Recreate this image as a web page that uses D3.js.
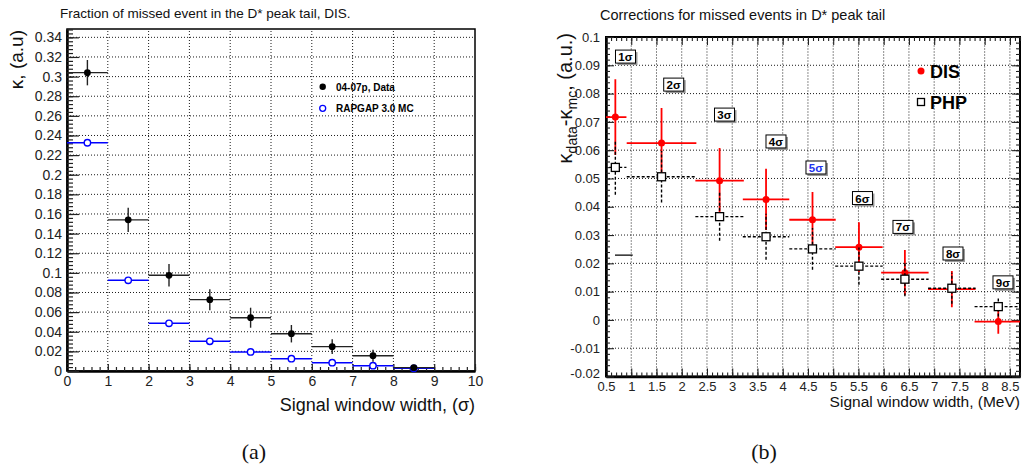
<!DOCTYPE html>
<html>
<head>
<meta charset="utf-8">
<script src="https://cdn.jsdelivr.net/npm/d3@7"></script>
<style>
  html, body { margin: 0; padding: 0; background: #fff; }
  text { font-family: "Liberation Sans", Arial, sans-serif; }
</style>
</head>
<body>
<svg id="chart" width="1022" height="469"></svg>
<script>
// ---------------- DATA ----------------
// Panel (a): fraction of missed events vs signal window width (sigma)
const binCentersA = [0.5, 1.5, 2.5, 3.5, 4.5, 5.5, 6.5, 7.5, 8.5];
const binHalfA = 0.5;
const dataKappa = [0.304, 0.154, 0.0975, 0.0727, 0.0543, 0.038, 0.0248, 0.0156, 0.0034];
const dataKappaErr = [0.0129, 0.0124, 0.0115, 0.0107, 0.0102, 0.0089, 0.0076, 0.0061, 0.0025];
const mcKappa = [0.2326, 0.0924, 0.0486, 0.0302, 0.0194, 0.0126, 0.0085, 0.0054, 0.0027];
const xTicksA = [0, 1, 2, 3, 4, 5, 6, 7, 8, 9, 10];
const yTicksA = [0, 0.02, 0.04, 0.06, 0.08, 0.1, 0.12, 0.14, 0.16, 0.18, 0.2, 0.22, 0.24, 0.26, 0.28, 0.3, 0.32, 0.34];
const yTickLabelsA = ["0","0.02","0.04","0.06","0.08","0.1","0.12","0.14","0.16","0.18","0.2","0.22","0.24","0.26","0.28","0.3","0.32","0.34"];

// Panel (b): corrections vs signal window width (MeV)
const sigmaLabels = ["1σ","2σ","3σ","4σ","5σ","6σ","7σ","8σ","9σ"];
const widthMeV = [0.685, 1.60, 2.75, 3.67, 4.59, 5.51, 6.42, 7.35, 8.27];
const widthHalfMeV = [0.22, 0.69, 0.48, 0.46, 0.46, 0.47, 0.47, 0.47, 0.47];
const disCorr = [0.0717, 0.0625, 0.0492, 0.0426, 0.0354, 0.0257, 0.0167, 0.0109, -0.0006];
const disCorrErr = [0.0134, 0.0124, 0.0116, 0.0108, 0.0098, 0.0088, 0.0080, 0.0064, 0.0043];
const phpCorr = [0.0539, 0.0506, 0.0365, 0.0294, 0.0251, 0.0190, 0.0144, 0.0112, 0.0047];
const phpCorrErr = [0.0097, 0.0091, 0.0085, 0.0081, 0.0074, 0.0066, 0.0060, 0.0055, 0.0035];
const labelBoxX = [0.886, 1.841, 2.847, 3.867, 4.659, 5.580, 6.382, 7.373, 8.363];
const labelBoxY = [0.0929, 0.0830, 0.0724, 0.0629, 0.0537, 0.0429, 0.0327, 0.0233, 0.0131];
const straySegment = { x0: 0.678, x1: 1.029, y: 0.0229 };
const xTicksB = [0.5,1,1.5,2,2.5,3,3.5,4,4.5,5,5.5,6,6.5,7,7.5,8,8.5];
const xTickLabelsB = ["0.5","1","1.5","2","2.5","3","3.5","4","4.5","5","5.5","6","6.5","7","7.5","8","8.5"];
const yTicksB = [-0.02,-0.01,0,0.01,0.02,0.03,0.04,0.05,0.06,0.07,0.08,0.09,0.1];
const yTickLabelsB = ["-0.02","-0.01","0","0.01","0.02","0.03","0.04","0.05","0.06","0.07","0.08","0.09","0.1"];

// ---------------- DRAW ----------------
const svg = d3.select("#chart");
svg.append("rect").attr("width",1022).attr("height",469).attr("fill","#fff");

function minorRange(a, b, step) {
  const out = [];
  const n = Math.round((b - a) / step);
  for (let i = 0; i <= n; i++) out.push(+(a + i * step).toFixed(6));
  return out;
}

// ===== Panel (a) =====
const xA = d3.scaleLinear().domain([0, 10]).range([67, 475]);
const yA = d3.scaleLinear().domain([0, 0.3485]).range([371, 29]);
const gA = svg.append("g");

// grid
gA.append("g").selectAll("line").data(xTicksA.slice(1, -1)).join("line")
  .attr("x1", d => xA(d)).attr("x2", d => xA(d))
  .attr("y1", yA.range()[0]).attr("y2", yA.range()[1])
  .attr("stroke", "#000").attr("stroke-width", 0.9).attr("stroke-dasharray", "1,2");
gA.append("g").selectAll("line").data(yTicksA.slice(1)).join("line")
  .attr("x1", xA.range()[0]).attr("x2", xA.range()[1])
  .attr("y1", d => yA(d)).attr("y2", d => yA(d))
  .attr("stroke", "#000").attr("stroke-width", 0.9).attr("stroke-dasharray", "1,2");

// frame
gA.append("rect").attr("x", 67).attr("y", 29).attr("width", 475 - 67).attr("height", 371 - 29)
  .attr("fill", "none").attr("stroke", "#000").attr("stroke-width", 1.5);

// axes
const xAxisA = d3.axisBottom(xA).tickValues(xTicksA).tickFormat(d3.format("d"))
  .tickSizeInner(-7).tickSizeOuter(0).tickPadding(5);
const gxA = gA.append("g").attr("transform", `translate(0,${yA(0)})`).call(xAxisA);
gA.append("g").attr("transform", `translate(0,${yA(0)})`)
  .call(d3.axisBottom(xA).tickValues(minorRange(0, 10, 0.2)).tickFormat("").tickSizeInner(-4).tickSizeOuter(0))
  .call(g => g.select(".domain").remove());
const yAxisA = d3.axisLeft(yA).tickValues(yTicksA).tickFormat((d, i) => yTickLabelsA[i])
  .tickSizeInner(-12).tickSizeOuter(0).tickPadding(5);
const gyA = gA.append("g").attr("transform", `translate(${xA(0)},0)`).call(yAxisA);
gA.append("g").attr("transform", `translate(${xA(0)},0)`)
  .call(d3.axisLeft(yA).tickValues(minorRange(0, 0.348, 0.004)).tickFormat("").tickSizeInner(-6).tickSizeOuter(0))
  .call(g => g.select(".domain").remove());
[gxA, gyA].forEach(g => {
  g.select(".domain").attr("stroke-width", 2.5).attr("stroke", "#000");
  g.selectAll("text").attr("font-size", 14).attr("fill", "#222").attr("font-family", "Liberation Sans, Arial, sans-serif");
});
gA.selectAll(".tick line").attr("stroke", "#222").attr("stroke-width", 1.2);

// MC (blue)
const mcG = gA.append("g");
mcG.selectAll("line").data(binCentersA).join("line")
  .attr("x1", d => xA(d - binHalfA)).attr("x2", d => xA(d + binHalfA))
  .attr("y1", (d, i) => yA(mcKappa[i])).attr("y2", (d, i) => yA(mcKappa[i]))
  .attr("stroke", "#0000ff").attr("stroke-width", 1.5);
mcG.selectAll("circle").data(binCentersA).join("circle")
  .attr("cx", d => xA(d)).attr("cy", (d, i) => yA(mcKappa[i])).attr("r", 3.2)
  .attr("fill", "#fff").attr("stroke", "#0000ff").attr("stroke-width", 1.4);

// Data (black)
const dG = gA.append("g");
dG.selectAll("line.h").data(binCentersA).join("line").attr("class", "h")
  .attr("x1", d => xA(d - binHalfA)).attr("x2", d => xA(d + binHalfA))
  .attr("y1", (d, i) => yA(dataKappa[i])).attr("y2", (d, i) => yA(dataKappa[i]))
  .attr("stroke", "#222").attr("stroke-width", 1.4);
dG.selectAll("line.v").data(binCentersA).join("line").attr("class", "v")
  .attr("x1", d => xA(d)).attr("x2", d => xA(d))
  .attr("y1", (d, i) => yA(dataKappa[i] - dataKappaErr[i])).attr("y2", (d, i) => yA(dataKappa[i] + dataKappaErr[i]))
  .attr("stroke", "#222").attr("stroke-width", 1.4);
dG.selectAll("circle").data(binCentersA).join("circle")
  .attr("cx", d => xA(d)).attr("cy", (d, i) => yA(dataKappa[i])).attr("r", 3.4)
  .attr("fill", "#000");

// legend (a)
gA.append("circle").attr("cx", 322.7).attr("cy", 86.7).attr("r", 3.2).attr("fill", "#000");
gA.append("text").attr("x", 336).attr("y", 90.5).attr("font-size", 10).attr("font-weight", "bold").text("04-07p, Data");
gA.append("circle").attr("cx", 322.7).attr("cy", 108.3).attr("r", 3).attr("fill", "#fff").attr("stroke", "#0000ff").attr("stroke-width", 1.3);
gA.append("text").attr("x", 336).attr("y", 112).attr("font-size", 10).attr("font-weight", "bold").text("RAPGAP 3.0 MC");

// titles (a)
svg.append("text").attr("x", 60).attr("y", 18).attr("font-size", 13.5).attr("fill", "#111")
  .text("Fraction of missed event in the D* peak tail, DIS.");
svg.append("text").attr("transform", "translate(23,30) rotate(-90)").attr("text-anchor", "end")
  .attr("font-size", 19).attr("fill", "#111").text("κ, (a.u)");
svg.append("text").attr("x", 475).attr("y", 411).attr("text-anchor", "end")
  .attr("font-size", 18).attr("fill", "#111").text("Signal window width, (σ)");
svg.append("text").attr("x", 254).attr("y", 459).attr("text-anchor", "middle")
  .attr("font-size", 22).style("font-family", "'Liberation Serif', serif").attr("fill", "#111").text("(a)");

// ===== Panel (b) =====
const xB = d3.scaleLinear().domain([0.5, 8.7]).range([606, 1020]);
const yB = d3.scaleLinear().domain([-0.02, 0.1]).range([376.5, 37]);
const gB = svg.append("g");

svg.append("defs").append("clipPath").attr("id", "clipB").append("rect")
  .attr("x", 606).attr("y", 37).attr("width", 1020 - 606).attr("height", 376.5 - 37);

// grid
gB.append("g").selectAll("line").data(xTicksB.slice(1)).join("line")
  .attr("x1", d => xB(d)).attr("x2", d => xB(d))
  .attr("y1", yB.range()[0]).attr("y2", yB.range()[1])
  .attr("stroke", "#000").attr("stroke-width", 0.9).attr("stroke-dasharray", "1,2");
gB.append("g").selectAll("line").data(yTicksB.slice(1, -1)).join("line")
  .attr("x1", xB.range()[0]).attr("x2", xB.range()[1])
  .attr("y1", d => yB(d)).attr("y2", d => yB(d))
  .attr("stroke", "#000").attr("stroke-width", 0.9).attr("stroke-dasharray", "1,2");

// frame
gB.append("rect").attr("x", 606).attr("y", 37).attr("width", 1020 - 606).attr("height", 376.5 - 37)
  .attr("fill", "none").attr("stroke", "#000").attr("stroke-width", 2);

// axes (b) with ticks on all sides
const xMinB = minorRange(0.5, 8.7, 0.1);
const yMinB = minorRange(-0.02, 0.1, 0.002);
const gxB = gB.append("g").attr("transform", `translate(0,${yB(-0.02)})`)
  .call(d3.axisBottom(xB).tickValues(xTicksB).tickFormat((d, i) => xTickLabelsB[i]).tickSizeInner(-8).tickSizeOuter(0).tickPadding(5));
gB.append("g").attr("transform", `translate(0,${yB(-0.02)})`)
  .call(d3.axisBottom(xB).tickValues(xMinB).tickFormat("").tickSizeInner(-4).tickSizeOuter(0))
  .call(g => g.select(".domain").remove());
gB.append("g").attr("transform", `translate(0,${yB(0.1)})`)
  .call(d3.axisTop(xB).tickValues(xTicksB).tickFormat("").tickSizeInner(-8).tickSizeOuter(0))
  .call(g => g.select(".domain").remove());
gB.append("g").attr("transform", `translate(0,${yB(0.1)})`)
  .call(d3.axisTop(xB).tickValues(xMinB).tickFormat("").tickSizeInner(-4).tickSizeOuter(0))
  .call(g => g.select(".domain").remove());
const gyB = gB.append("g").attr("transform", `translate(${xB(0.5)},0)`)
  .call(d3.axisLeft(yB).tickValues(yTicksB).tickFormat((d, i) => yTickLabelsB[i]).tickSizeInner(-8).tickSizeOuter(0).tickPadding(6));
gB.append("g").attr("transform", `translate(${xB(0.5)},0)`)
  .call(d3.axisLeft(yB).tickValues(yMinB).tickFormat("").tickSizeInner(-4).tickSizeOuter(0))
  .call(g => g.select(".domain").remove());
gB.append("g").attr("transform", `translate(${xB(8.7)},0)`)
  .call(d3.axisRight(yB).tickValues(yTicksB).tickFormat("").tickSizeInner(-8).tickSizeOuter(0))
  .call(g => g.select(".domain").remove());
gB.append("g").attr("transform", `translate(${xB(8.7)},0)`)
  .call(d3.axisRight(yB).tickValues(yMinB).tickFormat("").tickSizeInner(-4).tickSizeOuter(0))
  .call(g => g.select(".domain").remove());
[gxB, gyB].forEach(g => {
  g.select(".domain").attr("stroke-width", 2.5).attr("stroke", "#000");
  g.selectAll("text").attr("font-size", 13).attr("fill", "#222").attr("font-family", "Liberation Sans, Arial, sans-serif");
});
// nudge the -0.02 label up slightly so it clears the 0.5 x label
gyB.selectAll(".tick text").filter((d) => d === -0.02).attr("dy", "0.1em");
gB.selectAll(".tick line").attr("stroke", "#222").attr("stroke-width", 1.1);

const plotB = gB.append("g").attr("clip-path", "url(#clipB)");

// stray segment
plotB.append("line")
  .attr("x1", xB(straySegment.x0)).attr("x2", xB(straySegment.x1))
  .attr("y1", yB(straySegment.y)).attr("y2", yB(straySegment.y))
  .attr("stroke", "#000").attr("stroke-width", 1.2);

// DIS (red)
plotB.selectAll("line.dh").data(widthMeV).join("line").attr("class", "dh")
  .attr("x1", (d, i) => xB(d - widthHalfMeV[i])).attr("x2", (d, i) => xB(d + widthHalfMeV[i]))
  .attr("y1", (d, i) => yB(disCorr[i])).attr("y2", (d, i) => yB(disCorr[i]))
  .attr("stroke", "#ff0000").attr("stroke-width", 1.8);
plotB.selectAll("line.dv").data(widthMeV).join("line").attr("class", "dv")
  .attr("x1", d => xB(d)).attr("x2", d => xB(d))
  .attr("y1", (d, i) => yB(disCorr[i] - disCorrErr[i])).attr("y2", (d, i) => yB(disCorr[i] + disCorrErr[i]))
  .attr("stroke", "#ff0000").attr("stroke-width", 1.8);
plotB.selectAll("circle.dis").data(widthMeV).join("circle").attr("class", "dis")
  .attr("cx", d => xB(d)).attr("cy", (d, i) => yB(disCorr[i])).attr("r", 3.5)
  .attr("fill", "#ff0000");

// PHP (black dashed, open squares)
plotB.selectAll("line.ph").data(widthMeV).join("line").attr("class", "ph")
  .attr("x1", (d, i) => xB(d - widthHalfMeV[i])).attr("x2", (d, i) => xB(d + widthHalfMeV[i]))
  .attr("y1", (d, i) => yB(phpCorr[i])).attr("y2", (d, i) => yB(phpCorr[i]))
  .attr("stroke", "#000").attr("stroke-width", 1.4).attr("stroke-dasharray", "3,2");
plotB.selectAll("line.pv").data(widthMeV).join("line").attr("class", "pv")
  .attr("x1", d => xB(d)).attr("x2", d => xB(d))
  .attr("y1", (d, i) => yB(phpCorr[i] - phpCorrErr[i])).attr("y2", (d, i) => yB(phpCorr[i] + phpCorrErr[i]))
  .attr("stroke", "#000").attr("stroke-width", 1.4).attr("stroke-dasharray", "3,2");
plotB.selectAll("rect.php").data(widthMeV).join("rect").attr("class", "php")
  .attr("x", d => xB(d) - 4).attr("y", (d, i) => yB(phpCorr[i]) - 4)
  .attr("width", 8).attr("height", 8)
  .attr("fill", "#fff").attr("stroke", "#000").attr("stroke-width", 1.3);

// sigma label boxes
const lbl = gB.append("g").selectAll("g").data(sigmaLabels).join("g")
  .attr("transform", (d, i) => `translate(${xB(labelBoxX[i])},${yB(labelBoxY[i])})`);
lbl.append("rect").attr("x", -8).attr("y", -5).attr("width", 20).attr("height", 13).attr("fill", "#999");
lbl.append("rect").attr("x", -10).attr("y", -7).attr("width", 20).attr("height", 13)
  .attr("fill", "#fff").attr("stroke", "#000").attr("stroke-width", 1);
lbl.append("text").attr("x", 0).attr("y", 4).attr("text-anchor", "middle")
  .attr("font-size", 11.5).attr("font-weight", "bold")
  .attr("fill", (d, i) => i === 4 ? "#2233ee" : "#000")
  .text(d => d);

// legend (b)
gB.append("circle").attr("cx", 921).attr("cy", 71).attr("r", 3.5).attr("fill", "#ff0000");
gB.append("text").attr("x", 930).attr("y", 77.5).attr("font-size", 18).attr("font-weight", "bold").text("DIS");
gB.append("rect").attr("x", 917.5).attr("y", 98.5).attr("width", 7).attr("height", 7)
  .attr("fill", "#fff").attr("stroke", "#000").attr("stroke-width", 1.3);
gB.append("text").attr("x", 930).attr("y", 109).attr("font-size", 18).attr("font-weight", "bold").text("PHP");

// titles (b)
svg.append("text").attr("x", 600).attr("y", 20).attr("font-size", 14.5).attr("fill", "#111")
  .text("Corrections for missed events in D* peak tail");
const yl = svg.append("text").attr("transform", "translate(572,33) rotate(-90)").attr("text-anchor", "end")
  .attr("font-size", 20).attr("fill", "#111");
yl.append("tspan").text("κ");
yl.append("tspan").attr("font-size", 14).attr("dy", 5).text("data");
yl.append("tspan").attr("dy", -5).text("-κ");
yl.append("tspan").attr("font-size", 14).attr("dy", 5).text("mc");
yl.append("tspan").attr("dy", -5).text(", (a.u.)");
svg.append("text").attr("x", 1020).attr("y", 407).attr("text-anchor", "end")
  .attr("font-size", 15.5).attr("fill", "#111").text("Signal window width, (MeV)");
svg.append("text").attr("x", 764).attr("y", 459).attr("text-anchor", "middle")
  .attr("font-size", 22).style("font-family", "'Liberation Serif', serif").attr("fill", "#111").text("(b)");
</script>
</body>
</html>
